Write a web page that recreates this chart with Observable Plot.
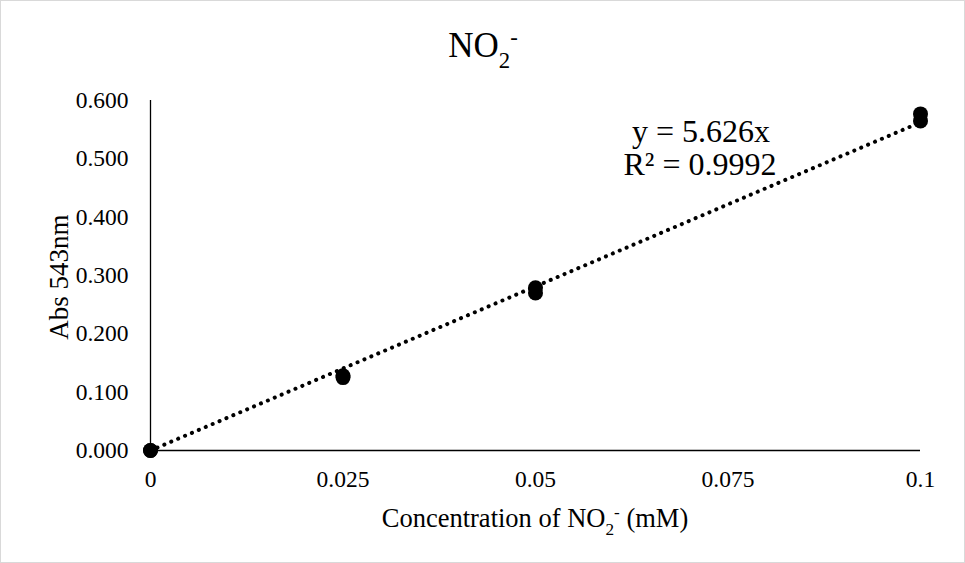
<!DOCTYPE html>
<html>
<head>
<meta charset="utf-8">
<script src="https://cdn.jsdelivr.net/npm/d3@7"></script>
<script src="https://cdn.jsdelivr.net/npm/@observablehq/plot@0.6"></script>
<style>
  html, body { margin: 0; padding: 0; background: #fff; }
  #chart svg { display: block; }
</style>
</head>
<body>
<div id="chart"></div>
<script>
// Data
const concentration = [0, 0, 0.025, 0.025, 0.05, 0.05, 0.1, 0.1];   // mM
const absorbance    = [0, 0, 0.128, 0.125, 0.279, 0.270, 0.577, 0.565];
const xTicks = [0, 0.025, 0.05, 0.075, 0.1];
const xTickLabels = ["0", "0.025", "0.05", "0.075", "0.1"];
const yTicks = [0, 0.1, 0.2, 0.3, 0.4, 0.5, 0.6];
const trendSlope = 5.626;
const trendR2 = "0.9992";
const trendXs = [0, 0.1];

const points = concentration.map((c, i) => ({x: c, y: absorbance[i]}));
const trend = trendXs.map(x => ({x, y: trendSlope * x}));

const W = 965, H = 563;
const FONT = "'Liberation Serif', 'Times New Roman', serif";

const chart = Plot.plot({
  width: W,
  height: H,
  marginLeft: 150,
  marginRight: 45,
  marginTop: 100,
  marginBottom: 113,
  style: {fontFamily: FONT, fontSize: "23.5px", color: "#000", background: "#fff", overflow: "visible"},
  x: {domain: [0, 0.1], ticks: xTicks, tickFormat: (d, i) => xTickLabels[xTicks.indexOf(d)], label: null},
  y: {domain: [0, 0.6], ticks: yTicks, tickFormat: d3.format(".3f"), label: null},
  marks: [
    Plot.axisX({ticks: xTicks, tickSize: 0, tickPadding: 20, fontSize: 23.5, tickFormat: d => xTickLabels[xTicks.indexOf(d)], label: null}),
    Plot.axisY({ticks: yTicks, tickSize: 0, tickPadding: 22, fontSize: 23.5, tickFormat: d3.format(".3f"), label: null}),
    Plot.ruleX([0], {y1: 0, y2: 0.6, stroke: "#000", strokeWidth: 1.3}),
    Plot.ruleY([0], {x1: 0, x2: 0.1, stroke: "#000", strokeWidth: 1.3}),
    Plot.line(trend, {x: "x", y: "y", stroke: "#000", strokeWidth: 4, strokeDasharray: "0.1 7.4", strokeLinecap: "round"}),
    Plot.dot(points, {x: "x", y: "y", r: 7.5, fill: "#000", stroke: "none"})
  ]
});

document.getElementById("chart").appendChild(chart);

const svg = d3.select(chart);
// outer chart border
svg.insert("rect", ":first-child")
  .attr("x", 0.5).attr("y", 0.5).attr("width", W - 1).attr("height", H - 1)
  .attr("fill", "#fff").attr("stroke", "#d9d9d9").attr("stroke-width", 1);

function addText(x, y, size, parts, opts = {}) {
  const t = svg.append("text")
    .attr("x", x).attr("y", y)
    .attr("text-anchor", opts.anchor || "middle")
    .attr("font-family", FONT)
    .attr("font-size", size)
    .attr("fill", "#000");
  if (opts.rotate) t.attr("transform", `rotate(-90 ${x} ${y})`);
  let shift = 0;
  for (const p of parts) {
    const s = t.append("tspan").text(p.text);
    const target = p.sub ? size * 0.3 : p.sup ? -size * 0.35 : 0;
    const dy = target - shift;
    if (dy !== 0) s.attr("dy", dy);
    shift = target;
    if (p.sub || p.sup) s.attr("font-size", size * 0.65);
  }
  return t;
}

// Title
addText(483, 57, 35, [{text: "NO"}, {text: "2", sub: true}, {text: "-", sup: true}]);
// X axis title
addText(535, 527, 26.5, [{text: "Concentration of NO"}, {text: "2", sub: true}, {text: "-", sup: true}, {text: " (mM)"}]);
// Y axis title
addText(68, 277, 27, [{text: "Abs 543nm"}], {rotate: true});
// Trendline equation
addText(701, 142, 32, [{text: `y = ${trendSlope}x`}]);
addText(700, 175, 32, [{text: `R² = ${trendR2}`}]);
</script>
</body>
</html>
